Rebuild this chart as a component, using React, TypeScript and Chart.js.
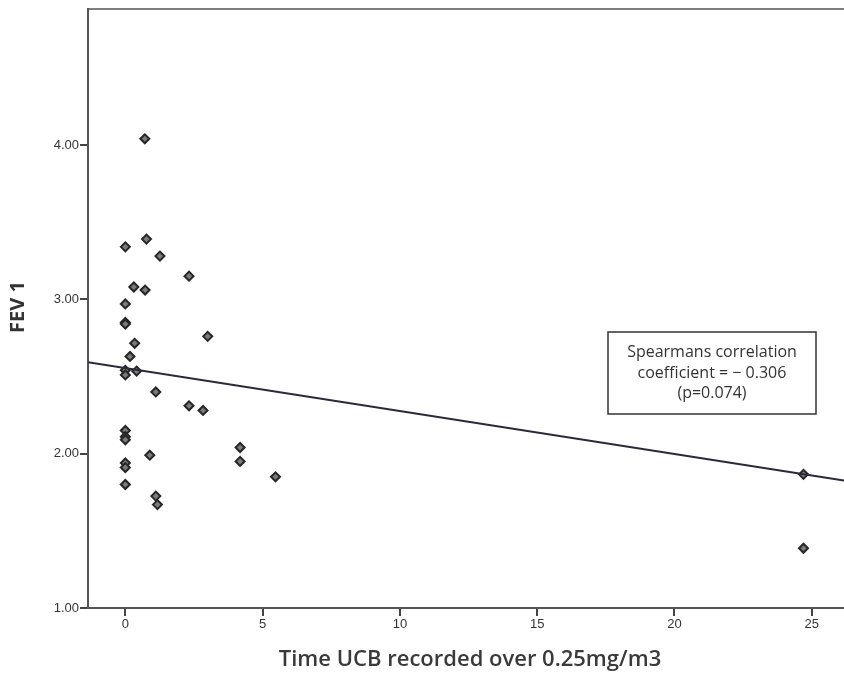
import React, { useEffect, useRef } from "react";
import { Chart, registerables } from "chart.js";

Chart.register(...registerables);

// Time UCB recorded over 0.25mg/m3 (x) vs FEV 1 (y)
const timeOver = [
  0.71, 0, 0.77, 1.26, 2.32, 0.31, 0.72, 0, 0, 0, 0.34, 0.17, 0, 0, 0.41, 3.0,
  1.11, 2.32, 2.83, 0, 0, 0, 0.89, 0, 0, 0, 1.11, 1.17, 4.18, 4.18, 5.47, 24.7, 24.7,
];
const fev1 = [
  4.04, 3.34, 3.39, 3.28, 3.15, 3.08, 3.06, 2.97, 2.85, 2.84, 2.715, 2.63, 2.54, 2.51, 2.535, 2.76,
  2.4, 2.31, 2.28, 2.15, 2.11, 2.09, 1.99, 1.94, 1.91, 1.8, 1.725, 1.67, 2.04, 1.95, 1.85, 1.866, 1.387,
];

// fitted line end points
const fitX = [-1.36, 26.23];
const fitY = [2.592, 1.825];

const xTicks = [0, 5, 10, 15, 20, 25];
const yTicks = [1, 2, 3, 4];
const xRange = [-1.36, 26.23];
const yRange = [1, 4.881];

const noteLines = ["Spearmans correlation", "coefficient = \u2212 0.306", "(p=0.074)"];
const xTitle = "Time UCB recorded over 0.25mg/m3";
const yTitle = "FEV 1";

const W = 852;
const H = 675;

export default function App() {
  const ref = useRef<HTMLCanvasElement | null>(null);
  useEffect(() => {
    const canvas = ref.current;
    if (!canvas) return;
    const decor = {
      id: "decor",
      afterDraw(chart: any) {
        const { ctx, chartArea } = chart;
        ctx.save();
        // top border
        ctx.strokeStyle = "#555";
        ctx.lineWidth = 1.5;
        ctx.beginPath();
        ctx.moveTo(chartArea.left, chartArea.top);
        ctx.lineTo(chartArea.right, chartArea.top);
        ctx.stroke();
        // note box
        ctx.fillStyle = "#fff";
        ctx.fillRect(608, 332, 208, 82);
        ctx.strokeStyle = "#333";
        ctx.lineWidth = 1.5;
        ctx.strokeRect(608, 332, 208, 82);
        ctx.fillStyle = "#333";
        ctx.font = "16px 'Open Sans'";
        ctx.textAlign = "center";
        ctx.textBaseline = "middle";
        const ys = [352, 373, 393];
        noteLines.forEach((t, i) => ctx.fillText(t, 712, ys[i]));
        // titles
        ctx.fillStyle = "#3a3a3a";
        ctx.font = "600 22px 'Open Sans'";
        ctx.fillText(xTitle, 470, 660);
        ctx.translate(18, 307);
        ctx.rotate(-Math.PI / 2);
        ctx.font = "bold 20px 'Open Sans'";
        ctx.fillStyle = "#333";
        ctx.fillText(yTitle, 0, 0);
        ctx.restore();
      },
    };
    const tickFont = { family: "'Liberation Sans Narrow', 'Liberation Sans'", size: 13 };
    const chart = new Chart(canvas, {
      type: "scatter",
      data: {
        datasets: [
          {
            type: "line",
            data: fitX.map((x, i) => ({ x, y: fitY[i] })),
            borderColor: "#2a2a3a",
            borderWidth: 2,
            pointRadius: 0,
            fill: false,
          } as any,
          {
            data: timeOver.map((x, i) => ({ x, y: fev1[i] })),
            pointStyle: "rectRot",
            pointRadius: 4.5,
            backgroundColor: "#7a7a7a",
            borderColor: "#262626",
            borderWidth: 2,
          },
        ],
      },
      plugins: [decor],
      options: {
        animation: false,
        responsive: false,
        layout: { padding: { top: 9, right: W - 848, left: 0, bottom: 0 } },
        plugins: { legend: { display: false }, tooltip: { enabled: false } },
        scales: {
          x: {
            type: "linear",
            min: xRange[0],
            max: xRange[1],
            afterBuildTicks: (s: any) => {
              s.ticks = xTicks.map((v) => ({ value: v }));
            },
            afterFit: (s: any) => {
              s.height = H - 608;
            },
            grid: { drawOnChartArea: false, drawTicks: true, tickLength: 8, color: "#444", lineWidth: 2 },
            border: { display: true, color: "#555", width: 2 },
            ticks: {
              color: "#333",
              font: tickFont,
              padding: 1,
              callback: (v: any) => String(v),
            },
          },
          y: {
            type: "linear",
            min: yRange[0],
            max: yRange[1],
            afterBuildTicks: (s: any) => {
              s.ticks = yTicks.map((v) => ({ value: v }));
            },
            afterFit: (s: any) => {
              s.width = 88;
            },
            grid: { drawOnChartArea: false, drawTicks: true, tickLength: 8, color: "#444", lineWidth: 2 },
            border: { display: true, color: "#555", width: 2 },
            ticks: {
              color: "#333",
              font: tickFont,
              padding: 1,
              callback: (v: any) => Number(v).toFixed(2),
            },
          },
        },
      },
    });
    return () => chart.destroy();
  }, []);
  return (
    <div style={{ position: "absolute", left: 0, top: 0, width: 844, height: 675, overflow: "hidden", background: "#fff" }}>
      <canvas ref={ref} width={W} height={H} style={{ width: W, height: H, display: "block" }} />
    </div>
  );
}
